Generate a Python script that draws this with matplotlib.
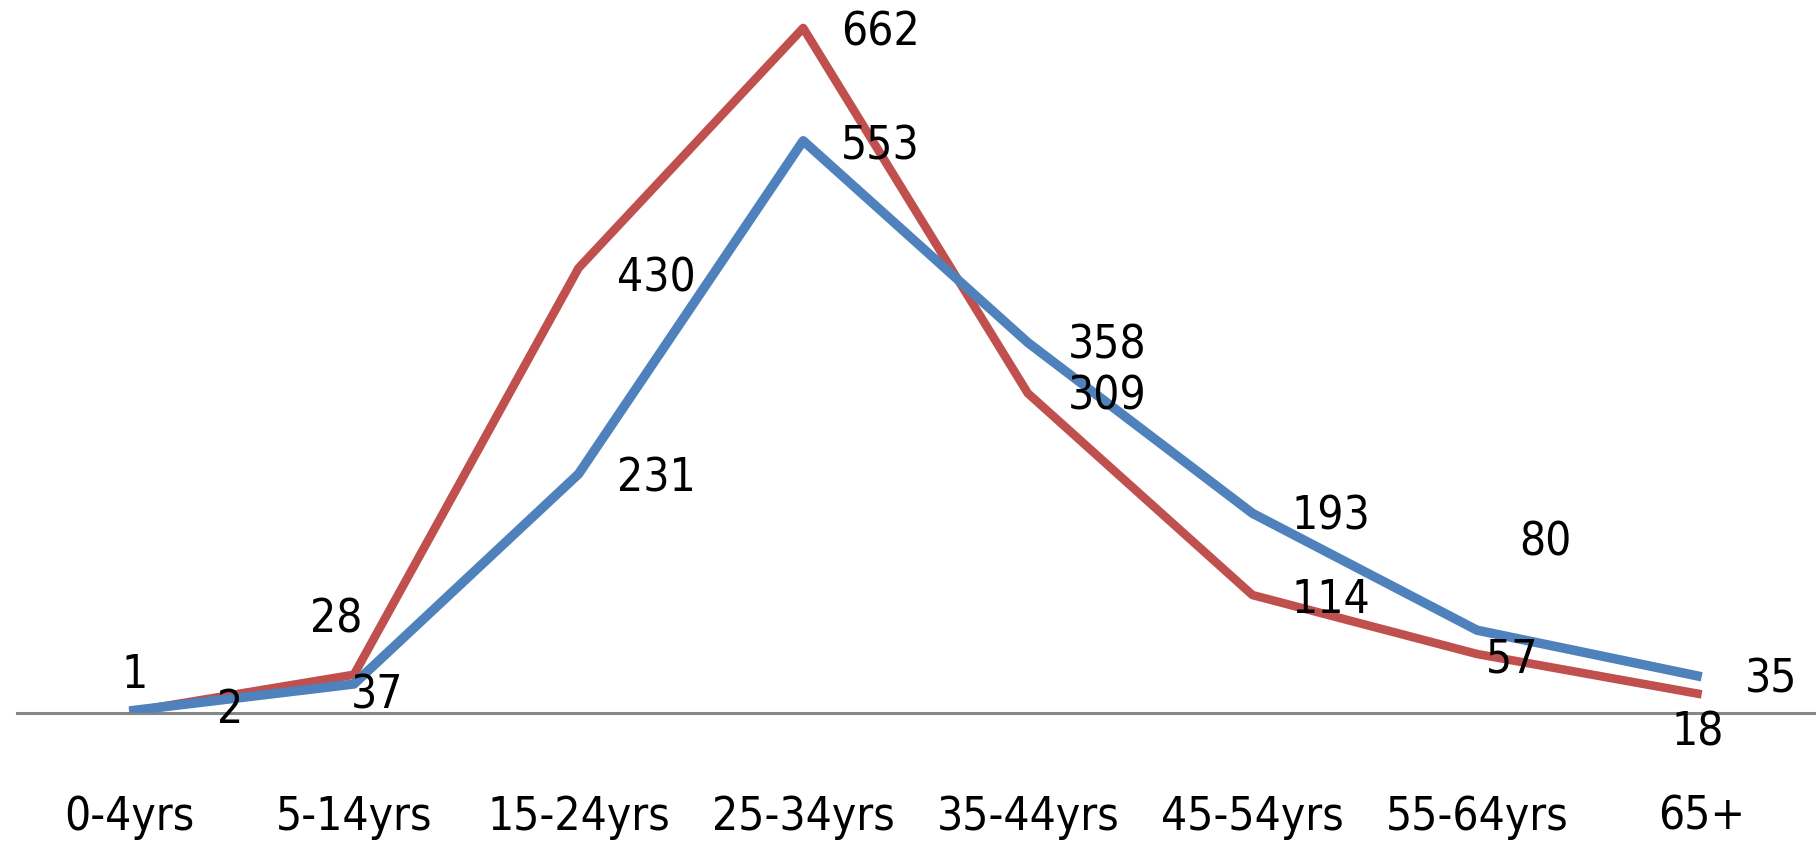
import matplotlib.pyplot as plt
import numpy as np

plt.rcParams['font.family'] = ['DejaVu Sans']
plt.rcParams['font.stretch'] = 'condensed'

categories = ["0-4yrs", "5-14yrs", "15-24yrs", "25-34yrs", "35-44yrs",
              "45-54yrs", "55-64yrs", "65+"]
blue_vals = [2, 28, 231, 553, 358, 193, 80, 35]
red_vals = [1, 37, 430, 662, 309, 114, 57, 18]

# label offsets in pixels (dx, dy), picked to match where the labels sit
blue_offsets = [(101, 1), (-18, 65), (78, -4), (77, -5), (79, -2), (78, -3), (68, 88), (69, -2)]
red_offsets = [(5, 37), (23, -20), (78, -10), (77, -4), (79, -3), (78, -4), (35, -5), (-4, -38)]

blue = "#4F81BD"
red = "#C0504D"

fig = plt.figure(figsize=(18.18, 8.45), dpi=100)
ax = fig.add_axes([17 / 1818, (845 - 714) / 845, 1797 / 1818, 714 / 845])

x = np.arange(len(categories))
ax.plot(x, blue_vals, color=blue, lw=6.8, solid_joinstyle="round", solid_capstyle="butt", zorder=3)
ax.plot(x, red_vals, color=red, lw=6.2, solid_joinstyle="round", solid_capstyle="butt", zorder=2)

for xi, v, (dx, dy) in zip(x, blue_vals, blue_offsets):
    ax.annotate(str(v), (xi, v), xytext=(dx, dy), textcoords="offset pixels",
                ha="center", va="center", fontsize=33, zorder=5)
for xi, v, (dx, dy) in zip(x, red_vals, red_offsets):
    ax.annotate(str(v), (xi, v), xytext=(dx, dy), textcoords="offset pixels",
                ha="center", va="center", fontsize=33, zorder=5)

ax.set_xlim(-0.5, len(categories) - 0.5)
ax.set_ylim(0, 690)
ax.set_xticks(x)
ax.set_xticklabels(categories, fontsize=33)
ax.tick_params(axis="x", length=0, pad=58)
ax.set_yticks([])
for side in ["top", "left", "right"]:
    ax.spines[side].set_visible(False)
ax.spines["bottom"].set_color("#868686")
ax.spines["bottom"].set_linewidth(2.2)
ax.patch.set_alpha(0)

fig.savefig("out.png", dpi=100)
